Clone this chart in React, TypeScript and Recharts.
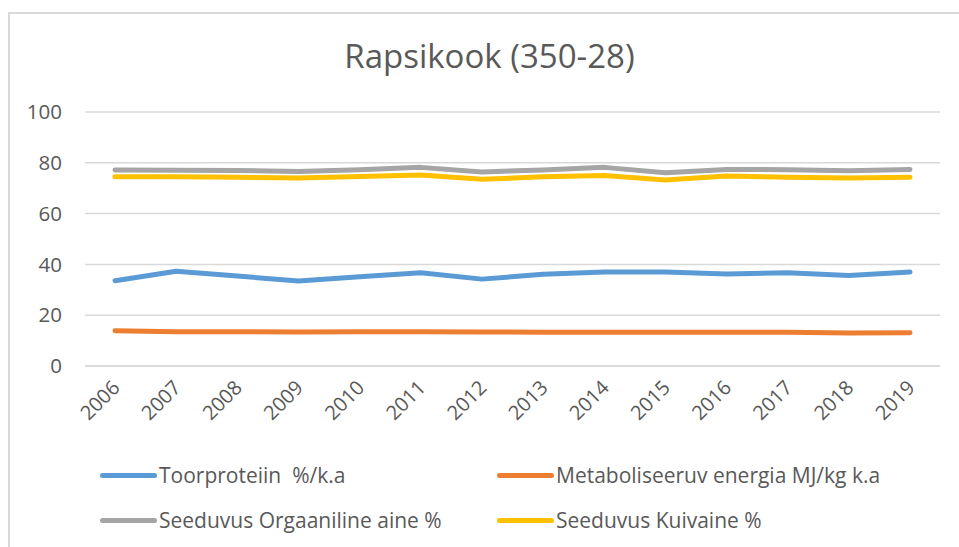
import { LineChart, Line, XAxis, YAxis, CartesianGrid, Legend } from 'recharts';

const years = ['2006', '2007', '2008', '2009', '2010', '2011', '2012', '2013', '2014', '2015', '2016', '2017', '2018', '2019'];
const toorproteiin = [33.6, 37.3, 35.4, 33.5, 35.1, 36.7, 34.2, 36.1, 37.0, 37.0, 36.2, 36.7, 35.6, 37.0];
const energia = [13.9, 13.5, 13.5, 13.4, 13.5, 13.5, 13.4, 13.3, 13.3, 13.3, 13.3, 13.3, 13.0, 13.1];
const orgaaniline = [77.2, 77.1, 77.0, 76.6, 77.3, 78.2, 76.4, 77.2, 78.2, 76.1, 77.4, 77.3, 76.9, 77.4];
const kuivaine = [74.5, 74.5, 74.3, 74.0, 74.6, 75.2, 73.5, 74.5, 75.0, 73.2, 74.8, 74.3, 74.0, 74.3];
const yTicks = [0, 20, 40, 60, 80, 100];

const series = [
  { key: 'toor', name: 'Toorproteiin  %/k.a', color: '#5B9BD5', values: toorproteiin },
  { key: 'energia', name: 'Metaboliseeruv energia MJ/kg k.a', color: '#ED7D31', values: energia },
  { key: 'org', name: 'Seeduvus Orgaaniline aine %', color: '#A5A5A5', values: orgaaniline },
  { key: 'kuiv', name: 'Seeduvus Kuivaine %', color: '#FFC000', values: kuivaine },
];

const chartData = years.map((year, i) => {
  const row: Record<string, string | number> = { year };
  series.forEach(s => { row[s.key] = s.values[i]; });
  return row;
});

const FONT = '"Open Sans", sans-serif';
const TEXT = '#595959';

const YearTick = ({ x, y, payload }: any) => (
  <text
    x={x + 6}
    y={y + 15}
    transform={`rotate(-45, ${x + 6}, ${y + 15})`}
    textAnchor="end"
    fill={TEXT}
    fontSize={20}
    fontFamily={FONT}
  >
    {payload.value}
  </text>
);

const LegendContent = () => {
  const spots = [
    { left: 100, top: 49 },
    { left: 497, top: 49 },
    { left: 100, top: 94 },
    { left: 497, top: 94 },
  ];
  return (
    <div style={{ position: 'relative', height: 110, width: 959 }}>
      {series.map((s, i) => (
        <div
          key={s.key}
          style={{
            position: 'absolute',
            left: spots[i].left,
            top: spots[i].top - 15,
            height: 30,
            display: 'flex',
            alignItems: 'center',
            whiteSpace: 'pre',
          }}
        >
          <span style={{ display: 'inline-block', width: 57, height: 5, borderRadius: 3, background: s.color }} />
          <span style={{ fontFamily: FONT, fontSize: 21, color: TEXT, marginLeft: 2 }}>{s.name}</span>
        </div>
      ))}
    </div>
  );
};

const App = () => {
  return (
    <div style={{ position: 'fixed', left: 0, top: 0, width: 959, height: 547, overflow: 'hidden', background: '#fff' }}>
      <div
        style={{
          position: 'absolute',
          left: 8,
          top: 12,
          width: 1000,
          height: 600,
          border: '2px solid #d9d9d9',
        }}
      />
      <div
        style={{
          position: 'absolute',
          left: 0,
          top: 33,
          width: 979,
          textAlign: 'center',
          fontFamily: FONT,
          fontSize: 33,
          color: TEXT,
        }}
      >
        Rapsikook (350-28)
      </div>
      <div style={{ position: 'absolute', left: 0, top: 0 }}>
        <LineChart
          width={959}
          height={547}
          data={chartData}
          margin={{ top: 112, right: 19, left: 25, bottom: 11 }}
        >
          <CartesianGrid vertical={false} stroke="#d9d9d9" strokeWidth={1.5} />
          <XAxis
            dataKey="year"
            axisLine={{ stroke: '#d9d9d9', strokeWidth: 1.5 }}
            tickLine={false}
            tick={<YearTick />}
            interval={0}
            height={60}
            padding={{ left: 30, right: 30 }}
          />
          <YAxis
            domain={[0, 100]}
            ticks={yTicks}
            axisLine={false}
            tickLine={false}
            tickSize={0}
            tickMargin={23}
            width={60}
            tick={{ fill: TEXT, fontSize: 20.5, fontFamily: FONT }}
          />
          <Legend
            verticalAlign="bottom"
            height={110}
            content={<LegendContent />}
            wrapperStyle={{ left: 0, width: 959 }}
          />
          {series.map(s => (
            <Line
              key={s.key}
              type="linear"
              dataKey={s.key}
              name={s.name}
              stroke={s.color}
              strokeWidth={5}
              strokeLinecap="round"
              strokeLinejoin="round"
              dot={false}
              activeDot={false}
              isAnimationActive={false}
            />
          ))}
        </LineChart>
      </div>
    </div>
  );
};

export default App;
